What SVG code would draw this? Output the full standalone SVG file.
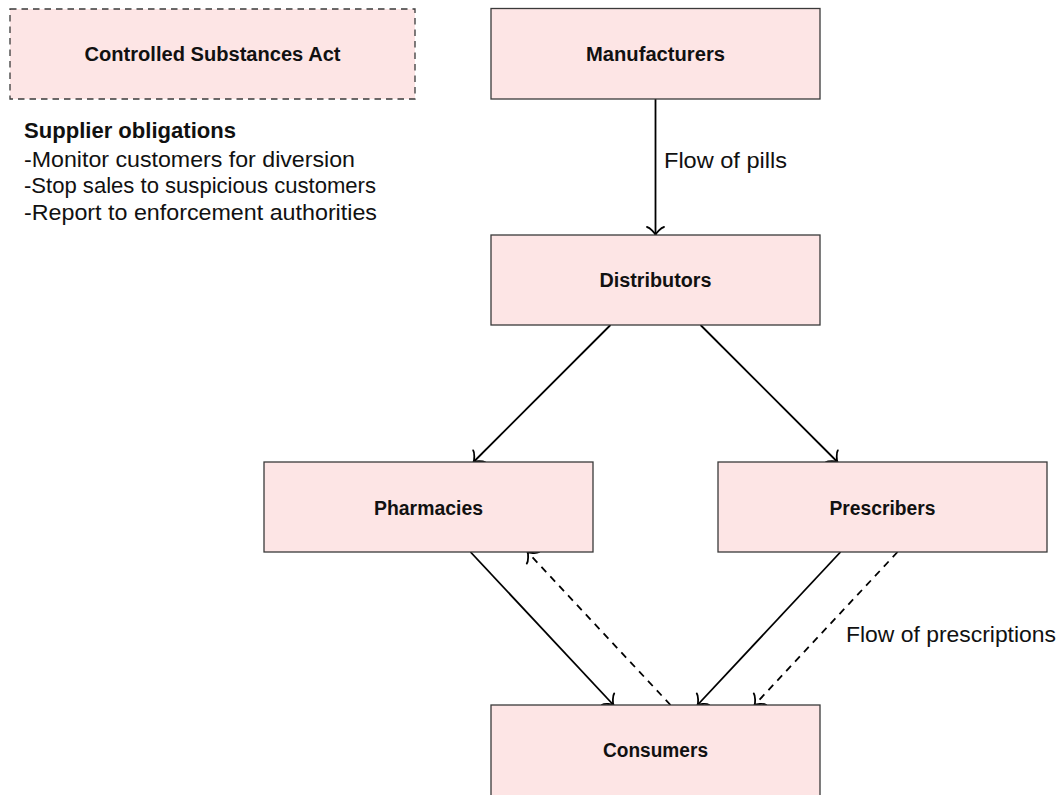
<svg xmlns="http://www.w3.org/2000/svg" width="1063" height="795" viewBox="0 0 1063 795">
  <style>
    .box { fill: #fde5e5; stroke: #3a3a3a; stroke-width: 1.3; }
    .dbox { fill: #fde5e5; stroke: #3a3a3a; stroke-width: 1.3; stroke-dasharray: 6.5 5; }
    .lbl { font-family: "Liberation Sans", Arial, sans-serif; font-weight: bold; font-size: 19.5px; fill: #111; text-anchor: middle; }
    .txt { font-family: "Liberation Sans", Arial, sans-serif; font-size: 22px; fill: #111; }
    .bold { font-weight: bold; }
    .edge { fill: none; stroke: #000; stroke-width: 1.8; marker-end: url(#to); }
    .dash { stroke-dasharray: 7 6; }
  </style>
  <defs>
    <marker id="to" viewBox="-12 -12 24 24" markerWidth="24" markerHeight="24" refX="0" refY="0" orient="auto" markerUnits="userSpaceOnUse" overflow="visible">
      <path d="M -8,-8.5 C -7.4,-5.3 -1.6,-0.5 0,0 C -1.6,0.5 -7.4,5.3 -8,8.5" fill="none" stroke="#000" stroke-width="1.8" stroke-linecap="round" stroke-dasharray="none"/>
    </marker>
  </defs>

  <g id="connectors">
    <path class="edge" d="M 655.5 99 L 655.5 235"/>
    <path class="edge" d="M 610.5 325 L 473.5 462"/>
    <path class="edge" d="M 700.5 325 L 837.5 462"/>
    <path class="edge" d="M 470.5 552 L 613.5 705"/>
    <path class="edge" d="M 840.5 552 L 697.5 705"/>
    <path class="edge dash" d="M 670.5 705 L 527.5 552"/>
    <path class="edge dash" d="M 897.5 552 L 754.5 705"/>
    <text class="txt" x="664" y="168" textLength="123" lengthAdjust="spacingAndGlyphs">Flow of pills</text>
    <text class="txt" x="846" y="642" textLength="210" lengthAdjust="spacingAndGlyphs">Flow of prescriptions</text>
  </g>

  <g id="csa">
    <rect class="dbox" x="10" y="9" width="405" height="90"/>
    <text class="lbl" x="212.5" y="61" textLength="256" lengthAdjust="spacingAndGlyphs">Controlled Substances Act</text>
  </g>

  <g id="obligations">
    <text class="txt bold" x="24" y="138" textLength="212" lengthAdjust="spacingAndGlyphs">Supplier obligations</text>
    <text class="txt" x="24" y="166.5" textLength="331" lengthAdjust="spacingAndGlyphs">-Monitor customers for diversion</text>
    <text class="txt" x="24" y="193" textLength="352" lengthAdjust="spacingAndGlyphs">-Stop sales to suspicious customers</text>
    <text class="txt" x="24" y="220" textLength="353" lengthAdjust="spacingAndGlyphs">-Report to enforcement authorities</text>
  </g>

  <g id="manufacturers">
    <rect class="box" x="491" y="8.5" width="329" height="90.5"/>
    <text class="lbl" x="655.5" y="61" textLength="139" lengthAdjust="spacingAndGlyphs">Manufacturers</text>
  </g>

  <g id="distributors">
    <rect class="box" x="491" y="235" width="329" height="90"/>
    <text class="lbl" x="655.5" y="287" textLength="112" lengthAdjust="spacingAndGlyphs">Distributors</text>
  </g>

  <g id="pharmacies">
    <rect class="box" x="264" y="462" width="329" height="90"/>
    <text class="lbl" x="428.5" y="514.5" textLength="109" lengthAdjust="spacingAndGlyphs">Pharmacies</text>
  </g>

  <g id="prescribers">
    <rect class="box" x="718" y="462" width="329" height="90"/>
    <text class="lbl" x="882.5" y="514.5" textLength="106" lengthAdjust="spacingAndGlyphs">Prescribers</text>
  </g>

  <g id="consumers">
    <rect class="box" x="491" y="705" width="329" height="95"/>
    <text class="lbl" x="655.5" y="757" textLength="105" lengthAdjust="spacingAndGlyphs">Consumers</text>
  </g>
</svg>
